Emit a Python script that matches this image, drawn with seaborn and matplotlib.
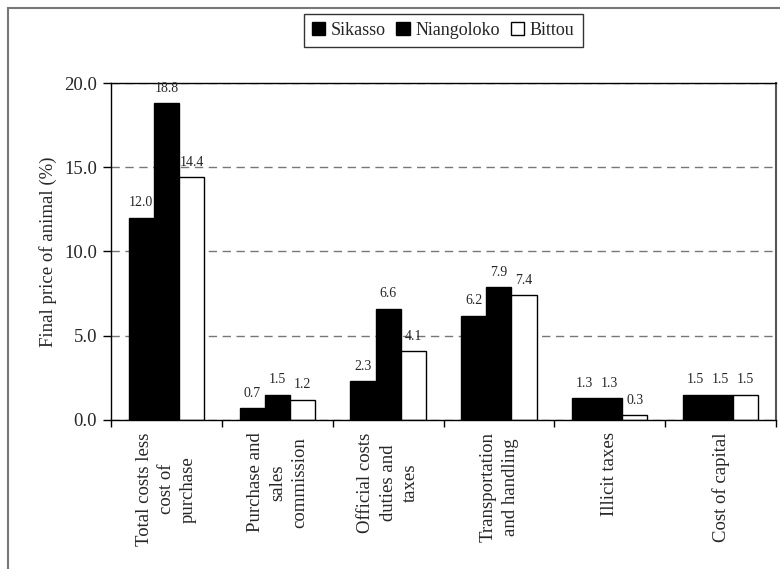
import numpy as np
import pandas as pd
import matplotlib.pyplot as plt
import seaborn as sns
from matplotlib.patches import Rectangle
from matplotlib.ticker import FixedLocator, FormatStrFormatter

# --- data ------------------------------------------------------------------
CATEGORIES = [
    "Total costs less\ncost of\npurchase",
    "Purchase and\nsales\ncommission",
    "Official costs\nduties and\ntaxes",
    "Transportation\nand handling",
    "Illicit taxes",
    "Cost of capital",
]
SITES = ["Sikasso", "Niangoloko", "Bittou"]
SIKASSO = [12.0, 0.7, 2.3, 6.2, 1.3, 1.5]
NIANGOLOKO = [18.8, 1.5, 6.6, 7.9, 1.3, 1.5]
BITTOU = [14.4, 1.2, 4.1, 7.4, 0.3, 1.5]
Y_TICKS = [0, 5, 10, 15, 20]

df = pd.DataFrame({
    "category": CATEGORIES * 3,
    "site": np.repeat(SITES, len(CATEGORIES)),
    "value": SIKASSO + NIANGOLOKO + BITTOU,
})

# --- style -------------------------------------------------------------------
sns.set_theme(style="white")
plt.rcParams["font.family"] = ["Liberation Serif", "DejaVu Serif"]
PAL = {"Sikasso": "black", "Niangoloko": "black", "Bittou": "white"}

fig = plt.figure(figsize=(7.8, 5.69), dpi=100)
ax = fig.add_axes([0.1423, 0.2619, 0.8526, 0.5922])

sns.barplot(data=df, x="category", y="value", hue="site", palette=PAL,
            width=0.68, edgecolor="black", linewidth=1.0, saturation=1,
            legend=True, ax=ax)

for cont in ax.containers:
    ax.bar_label(cont, fmt="%.1f", padding=6, fontsize=10)

ax.set_xlim(-0.5, 5.5)
ax.set_ylim(0, 20)
ax.yaxis.set_major_locator(FixedLocator(Y_TICKS))
ax.yaxis.set_major_formatter(FormatStrFormatter("%.1f"))
ax.set_ylabel("Final price of animal (%)", fontsize=13.5, labelpad=5)
ax.set_xlabel("")

ax.set_xticks(range(len(CATEGORIES)))
ax.set_xticklabels(CATEGORIES, rotation=90, fontsize=13.5, linespacing=1.4,
                   multialignment="center", va="top", ha="center")
ax.set_xticks(np.arange(-0.5, 6.0, 1.0), minor=True)
ax.tick_params(axis="x", which="major", length=0, pad=9)
ax.tick_params(axis="x", which="minor", length=5, width=1, color="black",
               direction="out", bottom=True)
ax.tick_params(axis="y", length=6, width=1, color="black", direction="out",
               left=True, labelsize=13.5, pad=4)

ax.yaxis.grid(True, linestyle=(0, (6, 4)), color="#777777", linewidth=1)
ax.set_axisbelow(True)
for s in ax.spines.values():
    s.set_color("black")
    s.set_linewidth(1)
ax.spines["right"].set_color("#555555")
ax.spines["right"].set_linewidth(1.5)

# legend at the top, boxed
handles, labels = ax.get_legend_handles_labels()
ax.legend_.remove()
fig.legend(handles, labels, loc="center", bbox_to_anchor=(0.568, 0.947),
           ncol=3, frameon=True, fancybox=False, edgecolor="black",
           fontsize=13, handlelength=0.75, handleheight=0.75,
           handletextpad=0.3, columnspacing=0.6, borderpad=0.45)

# outer chart frame (top/left edges visible)
fig.patches.append(Rectangle((8 / 780, -0.1), 1.2, 1 - 8 / 569 + 0.1,
                             transform=fig.transFigure, fill=False,
                             edgecolor="#777777", linewidth=1.5))

fig.savefig("out.png", dpi=100, facecolor="white")
